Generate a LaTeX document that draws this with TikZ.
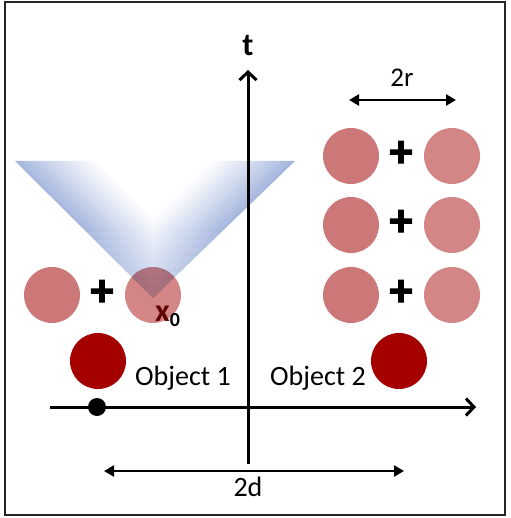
\documentclass[tikz,border=0pt]{standalone}
\usepackage{fontspec}
\setmainfont{Carlito}
\newfontfamily\plusfont{Carlito}[BoldFeatures={FakeBold=2.5}]
\usetikzlibrary{arrows.meta,calc}
\definecolor{pinkA}{RGB}{205,120,120}
\definecolor{pinkB}{RGB}{212,134,134}
\definecolor{darkobj}{RGB}{165,0,0}
\definecolor{coneblue}{RGB}{165,182,222}
\definecolor{xdark}{RGB}{95,5,5}
\tikzset{
  pinkL/.style={circle, fill=pinkA, minimum size=56pt, inner sep=0pt},
  pinkR/.style={circle, fill=pinkB, minimum size=56pt, inner sep=0pt},
  objdisk/.style={circle, fill=darkobj, minimum size=56pt, inner sep=0pt},
  plussign/.style={font=\fontsize{46}{46}\plusfont\bfseries, inner sep=0pt},
  lbl/.style={font=\fontsize{28}{28}\selectfont, inner sep=0pt},
  axisline/.style={line width=3pt, -{Straight Barb[length=8pt,width=17pt]}},
  dimline/.style={line width=2.5pt, {Triangle[length=10pt,width=11pt]}-{Triangle[length=10pt,width=11pt]}},
}
\begin{document}
\begin{tikzpicture}[x=1pt,y=-1pt]
\useasboundingbox (0,0) rectangle (510,518);
\fill[white] (0,0) rectangle (510,518);
\draw[line width=2.5pt, black!85] (5,2) rectangle (505,515);

% cone
\coordinate (apex) at (153,298);
\coordinate (tl) at (15,161);
\coordinate (tr) at (295,161);
\begin{scope}
\clip (tl) -- (tr) -- (apex) -- cycle;
\foreach \ya/\yb/\f in {150/231/1, 230/239/0.95, 238/247/0.9, 246/255/0.85, 254/263/0.8,
                         262/271/0.75, 270/279/0.7, 278/287/0.65, 286/295/0.6, 294/305/0.55}{
  \begin{scope}
  \clip (0,\ya) rectangle (310,\yb);
  \foreach \i in {0,...,23}{
    \pgfmathsetmacro{\a}{0.7071*(\i*2.4-(\i==0)*6)}
    \pgfmathsetmacro{\b}{0.7071*((\i+1)*2.4)}
    \pgfmathsetmacro{\c}{\f*100*(1-\i/24)^1.1}
    \fill[coneblue!\c!white, blend mode=darken]
      ($(apex)+(60,60)+(\a,-\a)$) -- ($(tl)+(-60,-60)+(\a,-\a)$) --
      ($(tl)+(-60,-60)+(\b,-\b)$) -- ($(apex)+(60,60)+(\b,-\b)$) -- cycle;
    \fill[coneblue!\c!white, blend mode=darken]
      ($(apex)+(-60,60)+(-\a,-\a)$) -- ($(tr)+(60,-60)+(-\a,-\a)$) --
      ($(tr)+(60,-60)+(-\b,-\b)$) -- ($(apex)+(-60,60)+(-\b,-\b)$) -- cycle;
  }
  \end{scope}
}
\end{scope}

% left row
\node[pinkL] (l1) at (52,295) {};
\node[pinkR, blend mode=multiply] (l2) at (153,295) {};
\node[plussign] (lp) at (102,293) {+};

\node[inner sep=0pt, anchor=base west] (x0) at (155,321)
  {\fontsize{32}{32}\selectfont\bfseries\textcolor{xdark}{x}\raisebox{-5pt}{\fontsize{20}{20}\selectfont 0}};

% right rows
\foreach \r/\y in {1/156,2/225,3/295}{
  \node[pinkL] (r\r a) at (351,\y) {};
  \node[pinkR] (r\r b) at (452,\y) {};
  \node[plussign] (r\r p) at (401,\y-2) {+};
}

% 2r
\coordinate (r2l) at (349,100);
\coordinate (r2r) at (456,100);
\draw[dimline] (r2l) -- (r2r);
\node[lbl, font=\fontsize{27}{27}\selectfont] (lab2r) at (402,78) {2r};

% objects
\node[objdisk] (o1) at (98,361) {};
\node[objdisk] (o2) at (399,361) {};
\node[lbl] (lo1) at (183,378) {Object 1};
\node[lbl] (lo2) at (318,378) {Object 2};

% axes
\coordinate (hx0) at (50,407);
\coordinate (hx1) at (476,407);
\coordinate (vy0) at (248,464);
\coordinate (vy1) at (248,70);
\draw[axisline] (hx0) -- (hx1);
\draw[axisline] (vy0) -- (vy1);
\node[lbl, font=\fontsize{32}{32}\selectfont\bfseries] (lt) at (248,46) {t};
\node[circle, fill=black, minimum size=18pt, inner sep=0pt] (dot) at (97,407) {};

% 2d
\coordinate (d2l) at (104,471);
\coordinate (d2r) at (404,471);
\draw[dimline] (d2l) -- (d2r);
\node[lbl] (lab2d) at (248,487) {2d};
\end{tikzpicture}
\end{document}
